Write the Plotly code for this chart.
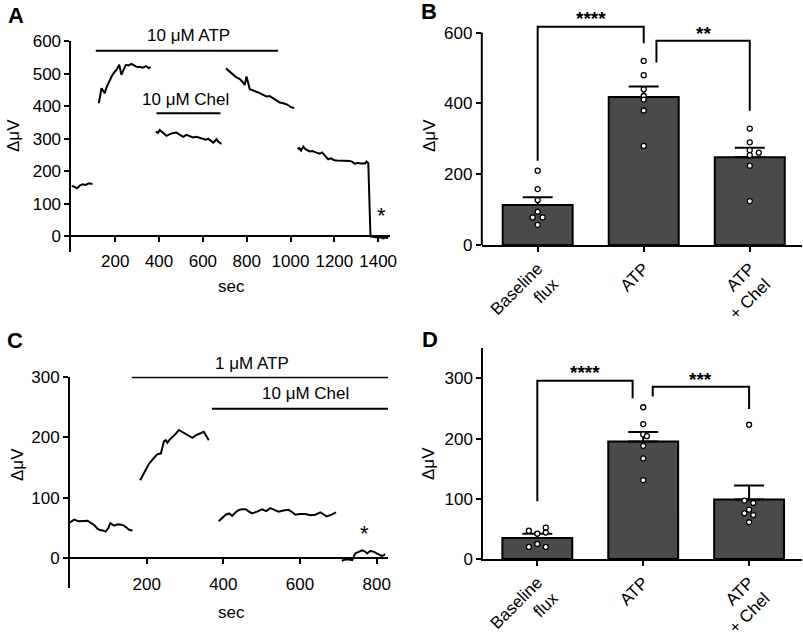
import plotly.graph_objects as go

FONT = "Liberation Sans, Arial, Helvetica, sans-serif"
BAR_COLOR = "#4a4a4a"

# ---------------- Panel A : trace (sec, delta uV) ----------------
a_t1 = [0, 12, 26, 38, 51, 64, 80, 96]
a_v1 = [155, 153, 148, 156, 160, 158, 163, 161]
a_t2 = [125, 131, 137, 144, 152, 160, 168, 175, 186, 198, 206, 213, 218, 223, 228, 238, 248, 260, 274, 290, 300, 312, 325, 342, 352, 362]
a_v2 = [409, 430, 455, 448, 440, 458, 470, 480, 495, 506, 512, 521, 527, 512, 496, 512, 527, 525, 530, 524, 520, 521, 518, 523, 517, 520]
a_t3 = [385, 395, 403, 415, 434, 450, 465, 479, 495, 510, 525, 540, 555, 570, 586, 600, 613, 624, 635, 647, 655, 662, 672, 685]
a_v3 = [322, 318, 327, 320, 309, 314, 318, 319, 311, 306, 312, 307, 304, 306, 302, 299, 297, 300, 294, 288, 293, 299, 290, 284]
a_t4 = [705, 715, 725, 738, 750, 760, 769, 780, 791, 799, 806, 814, 830, 845, 860, 875, 890, 905, 921, 936, 951, 967, 985, 1000, 1017]
a_v4 = [516, 510, 503, 496, 490, 486, 483, 475, 465, 491, 470, 452, 448, 445, 440, 435, 430, 431, 424, 418, 411, 409, 405, 398, 394]
a_t5 = [1032, 1040, 1048, 1058, 1068, 1078, 1088, 1100, 1112, 1124, 1134, 1145, 1155, 1164, 1172, 1185, 1200, 1212, 1225, 1240, 1255, 1271, 1282, 1294, 1305, 1318, 1330, 1340, 1347, 1355, 1365, 1378, 1390, 1402, 1412, 1422, 1434, 1446]
a_v5 = [268, 272, 264, 276, 268, 265, 261, 262, 258, 256, 254, 258, 250, 244, 237, 240, 234, 233, 233, 231, 233, 232, 229, 223, 226, 224, 225, 224, 230, 225, 0, -2, -3, -4, -2, -6, -3, -5]
a_xticks = [200, 400, 600, 800, 1000, 1200, 1400]
a_yticks = [0, 100, 200, 300, 400, 500, 600]
# treatment bars: (label, start, end, level, label_x, label_y)
a_treat = [("10 \u03bcM ATP", 111, 943, 570, 534, 616),
           ("10 \u03bcM Chel", 388, 680, 378, 522, 419)]
a_star = (1415, 77)

# ---------------- Panel C : trace ----------------
c_t1 = [0, 11, 22, 33, 46, 55, 63, 70, 76, 85, 93, 100, 105, 110, 115, 125, 137, 145, 154, 163]
c_v1 = [59, 64, 61, 61, 62, 58, 55, 50, 47, 46, 44, 50, 58, 56, 54, 56, 55, 52, 47, 46]
c_t2 = [183, 190, 197, 205, 215, 222, 228, 237, 245, 250, 254, 260, 267, 275, 284, 292, 301, 310, 319, 328, 336, 342, 349, 355, 362]
c_v2 = [129, 138, 146, 155, 163, 168, 172, 173, 193, 195, 191, 196, 200, 205, 212, 209, 205, 202, 199, 203, 206, 207, 209, 202, 195]
c_t3 = [388, 397, 406, 415, 423, 432, 441, 450, 458, 467, 475, 488, 501, 512, 523, 533, 544, 557, 570, 580, 588, 600, 614, 627, 640, 653, 661, 670, 682, 694]
c_v3 = [61, 66, 72, 74, 70, 76, 80, 81, 81, 77, 74, 77, 81, 78, 83, 80, 77, 79, 80, 76, 72, 73, 73, 71, 72, 76, 73, 69, 72, 76]
c_t4 = [709, 718, 727, 736, 744, 753, 762, 770, 775, 783, 792, 800, 807, 813, 818, 822]
c_v4 = [-4, -2, -2, -3, 8, 10, 13, 11, 8, 12, 11, 8, 6, 4, 5, 7]
c_xticks = [200, 400, 600, 800]
c_yticks = [0, 100, 200, 300]
c_treat = [("1 \u03bcM ATP", 161, 830, 299, 475, 322),
           ("10 \u03bcM Chel", 370, 830, 247, 614, 272)]
c_star = (768, 47)

# ---------------- Bar panels ----------------
categories = ["Baseline<br>flux", "ATP", "ATP<br>+ Chel"]

b_mean = [113, 418, 248]
b_sem = [22, 30, 27]
b_dots = [[210, 158, 127, 94, 78, 78, 57],
          [520, 480, 440, 421, 411, 380, 280],
          [329, 290, 268, 261, 254, 224, 124]]
b_yticks = [0, 200, 400, 600]
# brackets: (x_left, x_right, y_left_end, y_right_end, y_top, label, label_y)
b_brackets = [(0, 1.0, 238, 570, 617, "****", 655),
              (1.12, 2.0, 516, 379, 577, "**", 612)]

d_mean = [35, 195, 99]
d_sem = [7, 16, 23]
d_dots = [[52, 47, 44, 42, 25, 20, 20],
          [252, 224, 207, 204, 188, 167, 131],
          [223, 97, 93, 82, 76, 73, 61]]
d_yticks = [0, 100, 200, 300]
d_brackets = [(0, 0.9, 96, 267, 296, "****", 318),
              (1.09, 2.0, 270, 249, 286, "***", 307)]

# jitter (styling) of dots
b_jit = [[0, 0, 0, 0, -0.047, 0.047, 0],
         [0, 0, 0, 0, 0, 0, 0],
         [0, 0, 0, 0.085, 0, 0, 0]]
d_jit = [[0.08, -0.08, 0.08, 0, 0, -0.08, 0.08],
         [0, 0, 0, 0.035, 0, 0, 0],
         [0, -0.044, 0.04, 0, -0.044, 0.04, 0]]


def join(ts, vs):
    X, Y = [], []
    for t, v in zip(ts, vs):
        if X:
            X.append(None)
            Y.append(None)
        X.extend(t)
        Y.extend(v)
    return X, Y


fig = go.Figure()

ax, ay = join([a_t1, a_t2, a_t3, a_t4, a_t5], [a_v1, a_v2, a_v3, a_v4, a_v5])
fig.add_trace(go.Scatter(x=ax, y=ay, mode="lines", line=dict(color="black", width=2),
                         xaxis="x", yaxis="y", showlegend=False, connectgaps=False))
cx, cy = join([c_t1, c_t2, c_t3, c_t4], [c_v1, c_v2, c_v3, c_v4])
fig.add_trace(go.Scatter(x=cx, y=cy, mode="lines", line=dict(color="black", width=2),
                         xaxis="x3", yaxis="y3", showlegend=False, connectgaps=False))


def bar_panel(xa, ya, mean, sem, dots, jit):
    fig.add_trace(go.Bar(x=[0, 1, 2], y=mean, width=0.66, xaxis=xa, yaxis=ya,
                         marker=dict(color=BAR_COLOR, line=dict(color="black", width=2)),
                         error_y=dict(type="data", array=sem, arrayminus=[0] * len(sem),
                                      symmetric=False, color="black", thickness=2, width=15),
                         showlegend=False))
    xs, ys = [], []
    for i, (vals, js) in enumerate(zip(dots, jit)):
        for v, j in zip(vals, js):
            xs.append(i + j)
            ys.append(v)
    fig.add_trace(go.Scatter(x=xs, y=ys, mode="markers", xaxis=xa, yaxis=ya, cliponaxis=False,
                             marker=dict(symbol="circle", size=5, color="white",
                                         line=dict(color="black", width=1.3)),
                             showlegend=False))


bar_panel("x2", "y2", b_mean, b_sem, b_dots, b_jit)
bar_panel("x4", "y4", d_mean, d_sem, d_dots, d_jit)

TICK = 17
tickfont = dict(family=FONT, size=TICK, color="black")

# domains (paper)
dA_x, dA_y, rA_y = [0.0890, 0.4851], [0.6041, 0.9355], [-47, 600]
dC_x, dC_y, rC_y = [0.0872, 0.4834], [0.0756, 0.4077], [-49, 300]
dB_x, dB_y, rB_y = [0.600, 0.9984], [0.6148, 0.9709], [0, 640]
dD_x, dD_y, rD_y = [0.6019, 0.9988], [0.1211, 0.4524], [0, 350]
yranges = {"y": rA_y, "y3": rC_y, "y2": rB_y, "y4": rD_y}


def zero_pos(dom, rng):
    return dom[0] + (0 - rng[0]) / (rng[1] - rng[0]) * (dom[1] - dom[0])


def yfrac(ya, v):
    r = yranges[ya]
    return (v - r[0]) / (r[1] - r[0])


common_y = dict(showgrid=False, zeroline=False, showline=True, linewidth=2, linecolor="black",
                ticks="outside", ticklen=5, tickwidth=2, tickcolor="black", tickfont=tickfont,
                automargin=False)
common_x = dict(showgrid=False, zeroline=False, showline=True, linewidth=2, linecolor="black",
                ticks="outside", ticklen=5, tickwidth=2, tickcolor="black", tickfont=tickfont,
                automargin=False)

fig.update_layout(
    template="none",
    width=803, height=636, margin=dict(l=0, r=0, t=0, b=0, pad=0),
    paper_bgcolor="white", plot_bgcolor="white",
    font=dict(family=FONT, color="black"),
    xaxis=dict(common_x, domain=dA_x, range=[0, 1452], anchor="free",
               position=zero_pos(dA_y, rA_y), tickvals=a_xticks, ticklabelstandoff=4),
    yaxis=dict(common_y, domain=dA_y, range=rA_y, anchor="x", tickvals=a_yticks),
    xaxis3=dict(common_x, domain=dC_x, range=[0, 830], anchor="free",
                position=zero_pos(dC_y, rC_y), tickvals=c_xticks, ticklabelstandoff=5),
    yaxis3=dict(common_y, domain=dC_y, range=rC_y, anchor="x3", tickvals=c_yticks),
    xaxis2=dict(common_x, domain=dB_x, range=[-0.527, 2.49], anchor="y2",
                tickvals=[0, 1, 2], ticktext=categories, tickangle=-45),
    yaxis2=dict(common_y, domain=dB_y, range=rB_y, anchor="x2", tickvals=b_yticks, showline=False),
    xaxis4=dict(common_x, domain=dD_x, range=[-0.51, 2.5], anchor="y4",
                tickvals=[0, 1, 2], ticktext=categories, tickangle=-45),
    yaxis4=dict(common_y, domain=dD_y, range=rD_y, anchor="x4", tickvals=d_yticks),
)

shapes = []
annots = []
# B axis line up to 600
shapes.append(dict(type="line", xref="x2 domain", yref="y2 domain", x0=0, x1=0, y0=0,
                   y1=yfrac("y2", 600), line=dict(color="black", width=2)))

for xa, ya, treat, star in [("x", "y", a_treat, a_star), ("x3", "y3", c_treat, c_star)]:
    for lab, t0, t1, lvl, lx, ly in treat:
        shapes.append(dict(type="line", xref=xa, yref=ya, x0=t0, x1=t1, y0=lvl, y1=lvl,
                           line=dict(color="black", width=2)))
        annots.append(dict(x=lx, y=yfrac(ya, ly), xref=xa, yref=ya + " domain", text=lab,
                           showarrow=False, xanchor="center", yanchor="middle",
                           font=dict(family=FONT, size=17, color="black")))
    annots.append(dict(x=star[0], y=yfrac(ya, star[1]), xref=xa, yref=ya + " domain", text="*",
                       showarrow=False, xanchor="center", yanchor="middle", yshift=-4,
                       font=dict(family=FONT, size=22, color="black")))

for xa, ya, brs in [("x2", "y2", b_brackets), ("x4", "y4", d_brackets)]:
    for x0, x1, yl, yr, yt, lab, ly in brs:
        shapes.append(dict(type="path", xref=xa, yref=ya,
                           path=f"M {x0},{yl} L {x0},{yt} L {x1},{yt} L {x1},{yr}",
                           line=dict(color="black", width=2)))
        annots.append(dict(x=(x0 + x1) / 2, y=yfrac(ya, ly), xref=xa, yref=ya + " domain",
                           text="<b>" + lab + "</b>", showarrow=False, yshift=-5,
                           xanchor="center", yanchor="middle",
                           font=dict(family=FONT, size=19, color="black")))

# panel letters
for lab, px, py in [("A", 16, 15), ("B", 429, 11), ("C", 15, 340), ("D", 430, 339)]:
    annots.append(dict(x=px / 803, y=1 - py / 636, xref="paper", yref="paper", text="<b>" + lab + "</b>",
                       showarrow=False, xanchor="center", yanchor="middle",
                       font=dict(family=FONT, size=22, color="black")))
# axis titles
for px, py in [(13, 135), (430, 136), (17, 465), (429, 464)]:
    annots.append(dict(x=px / 803, y=1 - py / 636, xref="paper", yref="paper", text="\u0394\u03bcV",
                       textangle=-90, showarrow=False, xanchor="center", yanchor="middle",
                       font=dict(family=FONT, size=17, color="black")))
for px, py in [(231, 286), (231, 612)]:
    annots.append(dict(x=px / 803, y=1 - py / 636, xref="paper", yref="paper", text="sec",
                       showarrow=False, xanchor="center", yanchor="middle",
                       font=dict(family=FONT, size=17, color="black")))

fig.update_layout(shapes=shapes, annotations=annots)
fig.write_html("out.html", config={"displayModeBar": False},
               post_script="document.body.style.margin='0';document.body.style.overflow='hidden';")
